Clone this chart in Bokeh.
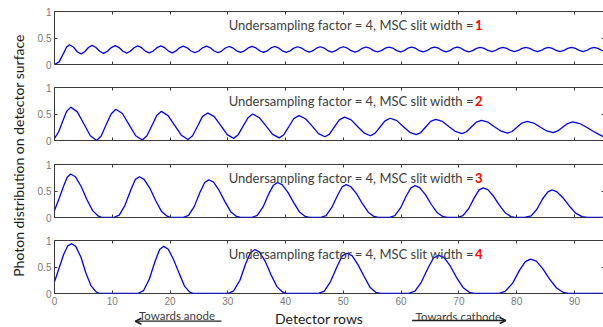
from bokeh.plotting import figure
from bokeh.models import (Range1d, FixedTicker, LinearAxis, Label, Arrow, OpenHead,
                          NumeralTickFormatter)
from bokeh.layouts import row, column
from bokeh.embed import file_html
from bokeh.resources import INLINE
import math

# ---------------- data ----------------
X_MAX = 95.2
x_ticks = [0, 10, 20, 30, 40, 50, 60, 70, 80, 90]
y_ticks = [0, 0.5, 1]
slit_widths = ["1", "2", "3", "4"]
caption = "Undersampling factor = 4, MSC slit width ="

# slit width 1
curve1 = [(0, 0), (0.8, 0.05), (1.6, 0.22), (2.1, 0.33), (2.6, 0.37),
          (3.27, 0.33), (3.93, 0.24), (4.6, 0.20), (5.23, 0.24), (5.87, 0.32), (6.5, 0.36),
          (7.17, 0.32), (7.83, 0.25), (8.5, 0.21), (9.17, 0.25), (9.83, 0.32), (10.5, 0.355),
          (11.17, 0.32), (11.83, 0.25), (12.5, 0.215), (13.13, 0.25), (13.77, 0.316), (14.4, 0.35),
          (15.07, 0.3175), (15.73, 0.2525), (16.4, 0.22), (17.07, 0.2525), (17.73, 0.3175), (18.4, 0.35),
          (19.07, 0.3175), (19.73, 0.2525), (20.4, 0.22), (20.97, 0.251), (21.63, 0.314), (22.3, 0.345),
          (22.97, 0.315), (23.63, 0.255), (24.3, 0.225), (24.97, 0.255), (25.63, 0.315), (26.3, 0.345),
          (26.97, 0.315), (27.63, 0.255), (28.3, 0.225), (28.93, 0.254), (29.57, 0.311), (30.2, 0.34),
          (30.87, 0.3125), (31.53, 0.2575), (32.2, 0.23), (32.87, 0.2575), (33.53, 0.3125), (34.2, 0.34),
          (34.87, 0.3125), (35.53, 0.2575), (36.2, 0.23), (36.83, 0.2575), (37.47, 0.3125), (38.1, 0.34),
          (38.77, 0.3125), (39.43, 0.2575), (40.1, 0.23), (40.77, 0.256), (41.43, 0.309), (42.1, 0.335),
          (42.77, 0.31), (43.43, 0.26), (44.1, 0.235), (44.73, 0.26), (45.37, 0.31), (46.0, 0.335),
          (46.67, 0.31), (47.33, 0.26), (48.0, 0.235), (48.67, 0.26), (49.33, 0.31), (50.0, 0.335),
          (50.67, 0.31), (51.33, 0.26), (52.0, 0.235), (52.63, 0.259), (53.27, 0.306), (53.9, 0.33),
          (54.57, 0.3075), (55.23, 0.2625), (55.9, 0.24), (56.57, 0.2625), (57.23, 0.3075), (57.9, 0.33),
          (58.57, 0.3075), (59.23, 0.2625), (59.9, 0.24), (60.53, 0.2625), (61.17, 0.3075), (61.8, 0.33),
          (62.47, 0.3075), (63.13, 0.2625), (63.8, 0.24), (64.47, 0.2625), (65.13, 0.3075), (65.8, 0.33),
          (66.47, 0.3075), (67.13, 0.2625), (67.8, 0.24), (68.43, 0.2625), (69.07, 0.3075), (69.7, 0.33),
          (70.37, 0.3075), (71.03, 0.2625), (71.7, 0.24), (72.37, 0.261), (73.03, 0.304), (73.7, 0.325),
          (74.37, 0.305), (75.03, 0.265), (75.7, 0.245), (76.33, 0.265), (76.97, 0.305), (77.6, 0.325),
          (78.27, 0.305), (78.93, 0.265), (79.6, 0.245), (80.27, 0.265), (80.93, 0.305), (81.6, 0.325),
          (82.27, 0.305), (82.93, 0.265), (83.6, 0.245), (84.23, 0.265), (84.87, 0.305), (85.5, 0.325),
          (86.17, 0.305), (86.83, 0.265), (87.5, 0.245), (88.17, 0.265), (88.83, 0.305), (89.5, 0.325),
          (90.17, 0.305), (90.83, 0.265), (91.5, 0.245), (92.13, 0.265), (92.77, 0.305), (93.4, 0.325),
          (94.07, 0.305), (94.73, 0.265), (95.2, 0.25)]

# slit width 2
curve2 = [(0, 0.04), (0.7, 0.16), (1.4, 0.36), (2.1, 0.55), (2.8, 0.63),
          (3.95, 0.54), (5.05, 0.32), (6.2, 0.09), (7.3, 0.0),
          (8.1, 0.09), (8.95, 0.30), (9.8, 0.50), (10.6, 0.59),
          (11.75, 0.51), (12.9, 0.30), (14.05, 0.09), (15.2, 0.01),
          (16.0, 0.09), (16.85, 0.28), (17.7, 0.47), (18.5, 0.55),
          (19.65, 0.47), (20.8, 0.285), (21.95, 0.10), (23.1, 0.02),
          (23.9, 0.09), (24.75, 0.27), (25.6, 0.45), (26.5, 0.52),
          (27.65, 0.45), (28.8, 0.28), (29.9, 0.11), (31.0, 0.04),
          (31.8, 0.11), (32.65, 0.27), (33.5, 0.43), (34.3, 0.50),
          (35.45, 0.43), (36.6, 0.275), (37.75, 0.115), (38.9, 0.05),
          (39.7, 0.11), (40.55, 0.26), (41.4, 0.41), (42.3, 0.47),
          (43.45, 0.41), (44.6, 0.27), (45.7, 0.13), (46.8, 0.07),
          (47.6, 0.12), (48.45, 0.255), (49.3, 0.39), (50.2, 0.44),
          (51.35, 0.39), (52.45, 0.265), (53.6, 0.14), (54.7, 0.09),
          (55.5, 0.14), (56.35, 0.255), (57.2, 0.37), (58.1, 0.42),
          (59.25, 0.375), (60.35, 0.265), (61.5, 0.155), (62.6, 0.11),
          (63.4, 0.15), (64.25, 0.255), (65.1, 0.36), (66.0, 0.40),
          (67.15, 0.36), (68.25, 0.265), (69.4, 0.17), (70.5, 0.13),
          (71.3, 0.165), (72.15, 0.255), (73.0, 0.345), (73.9, 0.38),
          (75.05, 0.345), (76.15, 0.26), (77.3, 0.175), (78.4, 0.14),
          (79.2, 0.17), (80.05, 0.25), (80.9, 0.33), (81.8, 0.36),
          (82.95, 0.33), (84.05, 0.255), (85.2, 0.18), (86.3, 0.15),
          (87.1, 0.18), (87.95, 0.25), (88.8, 0.32), (89.7, 0.35),
          (90.9, 0.32), (92.1, 0.25), (93.3, 0.17), (94.3, 0.11), (95.2, 0.06)]

# slit width 3
curve3 = [(0, 0.13), (0.8, 0.36), (1.6, 0.6), (2.2, 0.76), (2.8, 0.82),
          (3.6, 0.77), (4.6, 0.59), (5.6, 0.34), (6.6, 0.13), (7.6, 0.025), (8.3, 0),
          (10.2, 0), (11.2, 0.045), (12.2, 0.23), (13.2, 0.52), (14.0, 0.72), (14.7, 0.77),
          (15.5, 0.72), (16.5, 0.555), (17.5, 0.32), (18.5, 0.12), (19.5, 0.025), (20.2, 0),
          (22.2, 0), (23.2, 0.04), (24.2, 0.21), (25.2, 0.48), (26.0, 0.66), (26.7, 0.71),
          (27.5, 0.67), (28.5, 0.51), (29.5, 0.30), (30.5, 0.11), (31.5, 0.02), (32.2, 0),
          (34.1, 0), (35.1, 0.04), (36.1, 0.2), (37.1, 0.45), (37.9, 0.61), (38.6, 0.66),
          (39.4, 0.62), (40.4, 0.475), (41.4, 0.28), (42.4, 0.105), (43.4, 0.02), (44.1, 0),
          (46.0, 0), (47.0, 0.037), (48.0, 0.19), (49.0, 0.42), (49.8, 0.58), (50.5, 0.62),
          (51.3, 0.58), (52.3, 0.445), (53.3, 0.26), (54.3, 0.10), (55.3, 0.02), (56.0, 0),
          (57.9, 0), (58.9, 0.036), (59.9, 0.18), (60.9, 0.41), (61.7, 0.56), (62.4, 0.60),
          (63.2, 0.565), (64.2, 0.43), (65.2, 0.25), (66.2, 0.095), (67.2, 0.02), (67.9, 0),
          (69.7, 0), (70.7, 0.034), (71.7, 0.17), (72.7, 0.38), (73.5, 0.52), (74.2, 0.56),
          (75.0, 0.525), (76.0, 0.40), (77.0, 0.235), (78.0, 0.09), (79.0, 0.017), (79.7, 0),
          (81.4, 0), (82.5, 0.031), (83.5, 0.156), (84.5, 0.354), (85.4, 0.484), (86.1, 0.52),
          (86.9, 0.49), (88.0, 0.374), (89.1, 0.218), (90.2, 0.083), (91.3, 0.016), (92.2, 0),
          (95.2, 0)]

# slit width 4
curve4 = [(0, 0.22), (0.8, 0.48), (1.6, 0.74), (2.3, 0.9), (3.0, 0.94),
          (3.7, 0.885), (4.6, 0.68), (5.4, 0.395), (6.3, 0.15), (7.2, 0.03), (7.8, 0),
          (14.4, 0), (15.4, 0.053), (16.4, 0.27), (17.4, 0.605), (18.2, 0.83), (18.9, 0.89),
          (19.7, 0.835), (20.6, 0.64), (21.6, 0.375), (22.5, 0.14), (23.4, 0.027), (24.1, 0),
          (30.0, 0), (31.0, 0.05), (32.1, 0.25), (33.1, 0.565), (33.9, 0.77), (34.7, 0.83),
          (35.5, 0.78), (36.5, 0.6), (37.5, 0.35), (38.5, 0.13), (39.5, 0.025), (40.2, 0),
          (45.6, 0), (46.7, 0.046), (47.8, 0.23), (48.95, 0.52), (49.8, 0.71), (50.6, 0.76),
          (51.5, 0.715), (52.5, 0.55), (53.6, 0.32), (54.6, 0.12), (55.6, 0.023), (56.4, 0),
          (61.2, 0), (62.4, 0.043), (63.5, 0.216), (64.7, 0.49), (65.6, 0.67), (66.5, 0.72),
          (67.4, 0.68), (68.5, 0.52), (69.6, 0.30), (70.7, 0.115), (71.8, 0.022), (72.6, 0),
          (76.8, 0), (78.0, 0.039), (79.3, 0.195), (80.5, 0.44), (81.5, 0.6), (82.4, 0.65),
          (83.4, 0.61), (84.5, 0.47), (85.7, 0.27), (86.9, 0.104), (88.1, 0.02), (88.9, 0),
          (95.2, 0)]

curves = [curve1, curve2, curve3, curve4]

# ---------------- styling / layout ----------------
AX = "#3a3a3a"
TICK_TXT = "#7a7a7a"
TXT = "#404040"
BLUE = "#0000ff"
TXT_FONT = "Lato"
TICK_FONT = "Liberation Sans"
borders = [(11, 11), (12, 12), (12, 11), (12, 16)]
FRAME_W, FRAME_H = 550, 53
BOTTOM_H = 18


def style_axis(ax, show_labels):
    ax.axis_line_color = None
    ax.major_tick_line_color = AX
    ax.major_tick_in = 3
    ax.major_tick_out = 0
    ax.minor_tick_line_color = None
    if show_labels:
        ax.major_label_text_font = TICK_FONT
        ax.major_label_text_font_size = "10px"
        ax.major_label_text_color = TICK_TXT
    else:
        ax.major_label_text_font_size = "1px"
        ax.major_label_text_color = None
        ax.major_label_standoff = 0


def make_panel(i):
    top, bottom = borders[i]
    p = figure(frame_width=FRAME_W, frame_height=FRAME_H,
               min_border_left=18, min_border_right=1,
               min_border_top=top, min_border_bottom=bottom,
               x_range=Range1d(0, X_MAX), y_range=Range1d(0, 1),
               output_backend="svg", toolbar_location=None)
    p.grid.visible = False
    p.outline_line_color = AX
    p.outline_line_width = 1
    p.background_fill_color = "white"
    p.border_fill_color = "white"

    p.xaxis.ticker = FixedTicker(ticks=x_ticks)
    p.yaxis.ticker = FixedTicker(ticks=y_ticks)
    p.yaxis.formatter = NumeralTickFormatter(format="0.[0]")
    style_axis(p.xaxis[0], i == 3)
    style_axis(p.yaxis[0], True)
    p.yaxis.major_label_standoff = 3
    if i == 3:
        p.xaxis.major_label_standoff = 3

    top_ax = LinearAxis(ticker=FixedTicker(ticks=x_ticks))
    style_axis(top_ax, False)
    p.add_layout(top_ax, "above")
    right_ax = LinearAxis(ticker=FixedTicker(ticks=y_ticks))
    style_axis(right_ax, False)
    p.add_layout(right_ax, "right")

    xs = [pt[0] for pt in curves[i]]
    ys = [pt[1] for pt in curves[i]]
    p.line(xs, ys, line_color=BLUE, line_width=1.3)

    p.add_layout(Label(x=30.15, y=0.75, text=caption, text_font=TXT_FONT,
                       text_font_size="13px", text_color=TXT, text_baseline="middle"))
    p.add_layout(Label(x=72.8, y=0.75, text=slit_widths[i], text_font=TXT_FONT,
                       text_font_size="13px", text_font_style="bold", text_color="#ff0000",
                       text_baseline="middle"))
    return p


panels = [make_panel(i) for i in range(4)]
p4 = panels[3]

# strip below the last panel for the x-axis title and direction notes
bot = figure(frame_width=FRAME_W, frame_height=BOTTOM_H,
             min_border_left=18, min_border_right=1, min_border_top=0, min_border_bottom=0,
             x_range=p4.x_range, y_range=Range1d(0, 1),
             x_axis_type=None, y_axis_type=None,
             output_backend="svg", toolbar_location=None)
bot.outline_line_color = None
bot.grid.visible = False
bot.add_layout(Label(x=45.8, y=0.5, text="Detector rows", text_font=TXT_FONT,
                     text_font_size="14px", text_color="#1a1a1a", text_align="center",
                     text_baseline="middle"))
bot.add_layout(Label(x=21.2, y=0.68, text="Towards anode", text_font=TXT_FONT,
                     text_font_size="11.5px", text_color=TXT, text_align="center",
                     text_baseline="middle"))
bot.add_layout(Label(x=69.9, y=0.63, text="Towards cathode", text_font=TXT_FONT,
                     text_font_size="11.5px", text_color=TXT, text_align="center",
                     text_baseline="middle"))
bot.add_layout(Arrow(x_start=28.9, y_start=0.35, x_end=14.0, y_end=0.35,
                     line_color="#202020", line_width=1.3,
                     end=OpenHead(size=6, line_width=1.6, line_color="#202020")))
bot.add_layout(Arrow(x_start=61.9, y_start=0.39, x_end=78.1, y_end=0.39,
                     line_color="#202020", line_width=1.3,
                     end=OpenHead(size=6, line_width=1.6, line_color="#202020")))

# y label column
TOTAL_H = sum(b[0] + b[1] + FRAME_H for b in borders) + BOTTOM_H
lab = figure(width=34, height=TOTAL_H, x_range=Range1d(0, 1), y_range=Range1d(0, 1),
             min_border=0, x_axis_type=None, y_axis_type=None,
             output_backend="svg", toolbar_location=None)
lab.grid.visible = False
lab.outline_line_color = None
lab.add_layout(Label(x=0.53, y=0.526, text="Photon distribution on detector surface",
                     text_font=TXT_FONT, text_font_size="14px", text_color="#1a1a1a",
                     angle=math.pi / 2, text_align="center", text_baseline="middle"))

layout = row(lab, column(*panels, bot, spacing=0), spacing=0)

with open("out.html", "w") as f:
    f.write(file_html(layout, INLINE))
